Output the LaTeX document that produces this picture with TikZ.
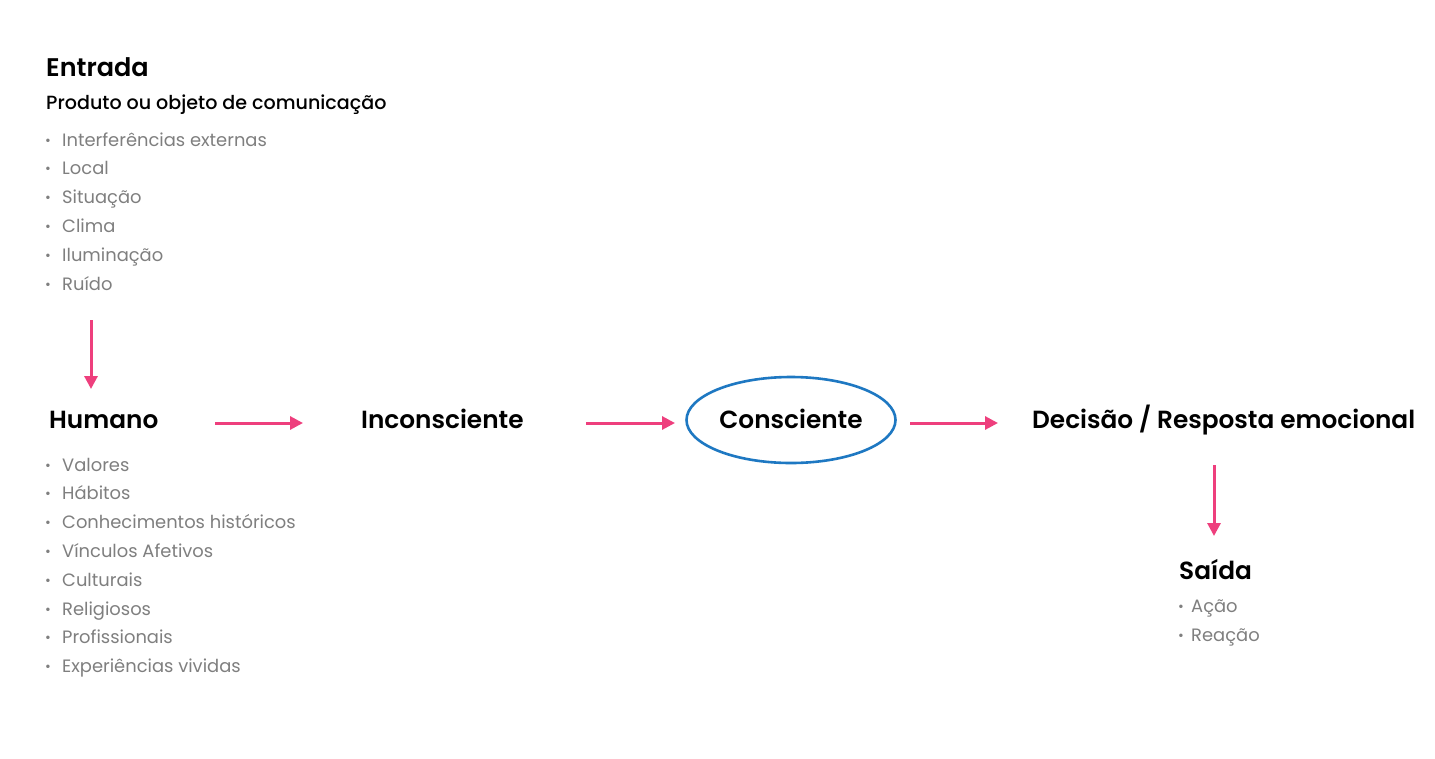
\documentclass[tikz,border=0pt]{standalone}
\usepackage{fontspec}
\setmainfont{Poppins}[BoldFont={Poppins SemiBold}]
\newfontfamily\medfont{Poppins Medium}
\usetikzlibrary{arrows.meta,shapes.geometric}
\definecolor{pinkarrow}{HTML}{EE3F7D}
\definecolor{itemgray}{HTML}{7F7F7F}
\definecolor{ellblue}{HTML}{1E78C2}
\tikzset{
  title/.style={anchor=base west,inner sep=0pt,font=\bfseries\fontsize{24.8}{28}\selectfont,text=black},
  bigtitle/.style={anchor=base west,inner sep=0pt,font=\bfseries\fontsize{25.5}{32}\selectfont,text=black},
  subtitle/.style={anchor=base west,inner sep=0pt,font=\medfont\fontsize{19.1}{23}\selectfont,text=black},
  item/.style={anchor=base west,inner sep=0pt,font=\fontsize{17.9}{22}\selectfont,text=itemgray},
  bul/.style={anchor=base,inner sep=0pt,font=\fontsize{14}{14}\selectfont,text=itemgray},
  flow/.style={draw=pinkarrow,line width=3pt,-{Triangle[length=13pt,width=13pt]}},
}
\begin{document}
\begin{tikzpicture}[x=1pt,y=-1pt]
\useasboundingbox (0,0) rectangle (1435,758);
\fill[white] (0,0) rectangle (1435,758);
% Entrada block
\node[bigtitle] (entrada) at (46,76) {Entrada};
\node[subtitle] (produto) at (46,109) {Produto ou objeto de comunicação};
\foreach \t [count=\i] in {Interferências externas,Local,Situação,Clima,Iluminação,Ruído}{
  \node[bul] (eb\i) at (48,{146+28.8*(\i-1)-1}) {•};
  \node[item] (e\i) at (62,{146+28.8*(\i-1)}) {\t};
}
% Main row
\node[title] (humano) at (49,428) {Humano};
\node[title] (incons) at (361,428) {Inconsciente};
\node[ellipse,draw=ellblue,line width=2.6pt,minimum width=209pt,minimum height=86pt,inner sep=0pt] (ell) at (791,420) {};
\node[title,anchor=base] (cons) at (791,428) {Consciente};
\node[title] (decisao) at (1032,428) {Decisão / Resposta emocional};
% Humano list
\foreach \t [count=\i] in {Valores,Hábitos,Conhecimentos históricos,Vínculos Afetivos,Culturais,Religiosos,Profissionais,Experiências vividas}{
  \node[bul] (hb\i) at (48,{471+28.8*(\i-1)-1}) {•};
  \node[item] (h\i) at (62,{471+28.8*(\i-1)}) {\t};
}
% Saida
\node[title] (saida) at (1179,579) {Saída};
\node[bul] (sb1) at (1181,611) {•};
\node[item] (s1) at (1191,612) {Ação};
\node[bul] (sb2) at (1181,640) {•};
\node[item] (s2) at (1191,641) {Reação};
% arrows
\coordinate (a1s) at (91,320);
\coordinate (a1e) at (91,389);
\draw[flow] (a1s) -- (a1e);
\coordinate (a2s) at (215,423);
\coordinate (a2e) at (303,423);
\draw[flow] (a2s) -- (a2e);
\coordinate (a3s) at (586,423);
\coordinate (a3e) at (675,423);
\draw[flow] (a3s) -- (a3e);
\coordinate (a4s) at (910,423);
\coordinate (a4e) at (998,423);
\draw[flow] (a4s) -- (a4e);
\coordinate (a5s) at (1214,465);
\coordinate (a5e) at (1214,536);
\draw[flow] (a5s) -- (a5e);
\end{tikzpicture}
\end{document}
